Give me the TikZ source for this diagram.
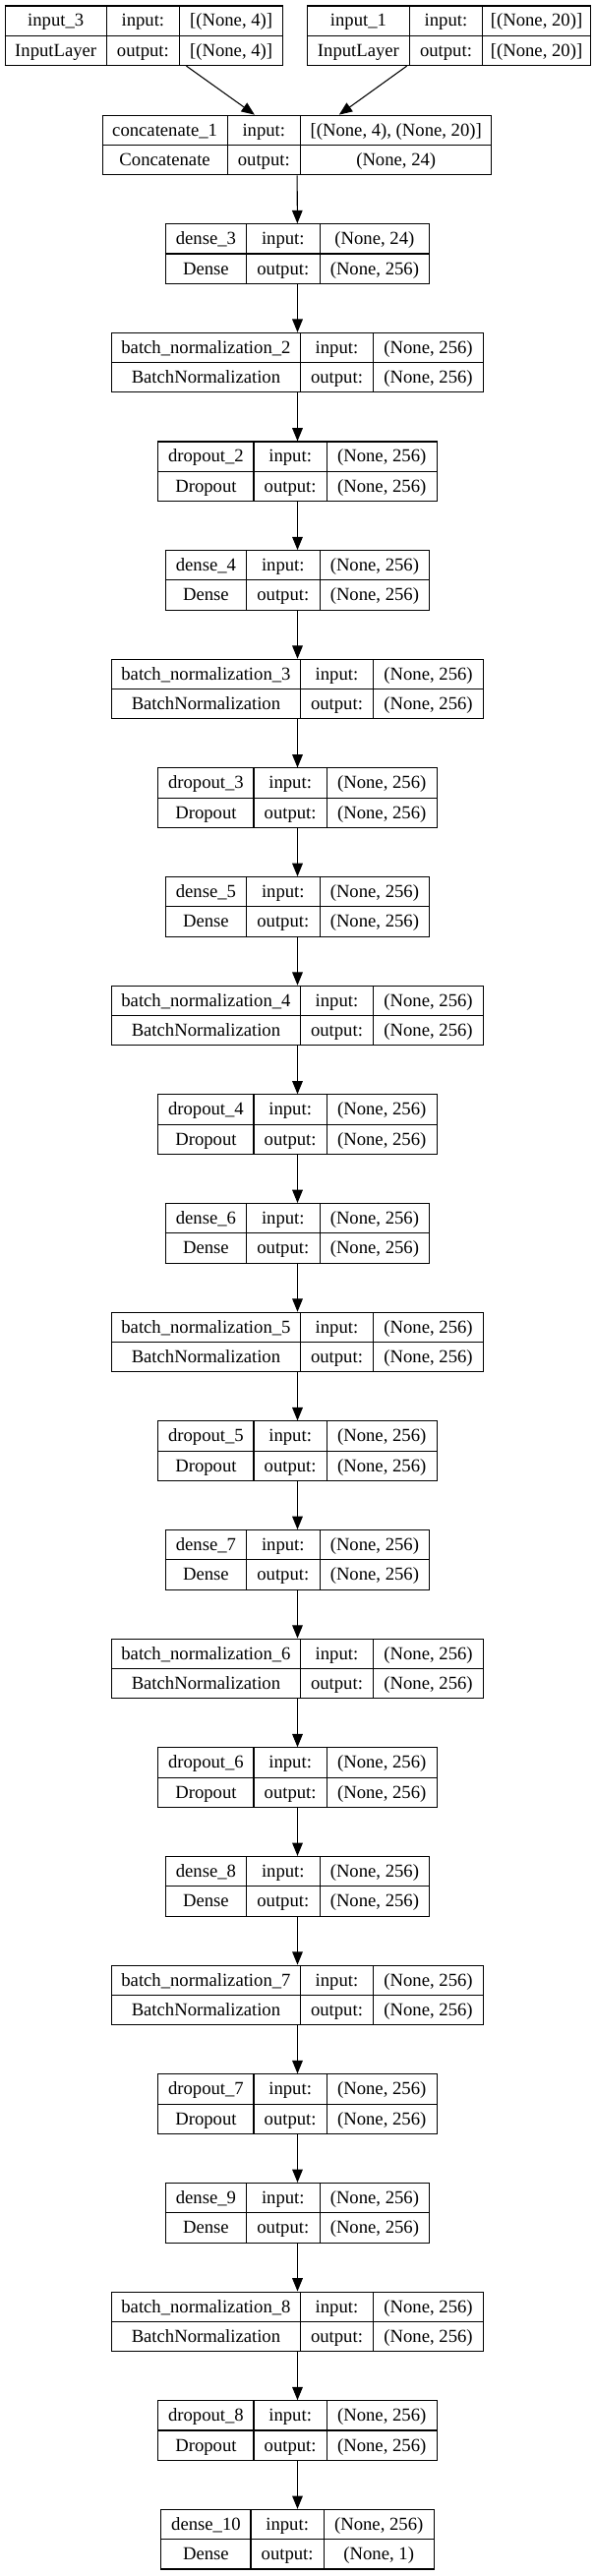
\documentclass[tikz,border=0pt]{standalone}
\usepackage{fontspec}
\setmainfont{Liberation Serif}
\usepackage{array}
\usetikzlibrary{arrows.meta}

\newcolumntype{C}[1]{>{\centering\arraybackslash}p{#1}}
\setlength{\tabcolsep}{0pt}
\setlength{\arrayrulewidth}{0.8pt}
\renewcommand{\arraystretch}{1.29}
%record table: widths, layer name, class, input shape, output shape
\newcommand{\kerastab}[7]{\begin{tabular}{|C{#1}|C{#2}|C{#3}|}\hline #4 & input: & #6\\\hline #5 & output: & #7\\\hline\end{tabular}}

\tikzset{every picture/.style={line width=0.75pt}}
\tikzset{
  layerbox/.style={inner sep=0pt, outer sep=0pt, font=\fontsize{14}{17}\selectfont},
  flowarrow/.style={-{Triangle[length=10pt,width=8pt]}, line width=0.8pt, color=black}
}

\begin{document}
\begin{tikzpicture}[x=0.75pt,y=0.75pt,yscale=-1,xscale=1]
				\useasboundingbox (0,0) rectangle (605,2619);
				
				%Layer: inputs
				\node[layerbox] (input3) at (146.4,36.3) {\kerastab{76.5pt}{55pt}{78pt}{input\_3}{InputLayer}{[(None, 4)]}{[(None, 4)]}};
				\node[layerbox] (input1) at (456.5,36.3) {\kerastab{77pt}{55pt}{81.5pt}{input\_1}{InputLayer}{[(None, 20)]}{[(None, 20)]}};
				%Layer: concatenate
				\node[layerbox] (concat1) at (302,147.5) {\kerastab{94.5pt}{55pt}{145pt}{concatenate\_1}{Concatenate}{[(None, 4), (None, 20)]}{(None, 24)}};
				
				%Layer: dense_3 block
				\node[layerbox] (dense3) at (302.5,258) {\kerastab{61pt}{55pt}{83pt}{dense\_3}{Dense}{(None, 24)}{(None, 256)}};
				\node[layerbox] (bnorm2) at (302.5,368.65) {\kerastab{143pt}{55pt}{83pt}{batch\_normalization\_2}{BatchNormalization}{(None, 256)}{(None, 256)}};
				\node[layerbox] (drop2) at (302.5,479.3) {\kerastab{72pt}{55pt}{83pt}{dropout\_2}{Dropout}{(None, 256)}{(None, 256)}};
				%Layer: dense_4 block
				\node[layerbox] (dense4) at (302.5,589.95) {\kerastab{61pt}{55pt}{83pt}{dense\_4}{Dense}{(None, 256)}{(None, 256)}};
				\node[layerbox] (bnorm3) at (302.5,700.6) {\kerastab{143pt}{55pt}{83pt}{batch\_normalization\_3}{BatchNormalization}{(None, 256)}{(None, 256)}};
				\node[layerbox] (drop3) at (302.5,811.25) {\kerastab{72pt}{55pt}{83pt}{dropout\_3}{Dropout}{(None, 256)}{(None, 256)}};
				%Layer: dense_5 block
				\node[layerbox] (dense5) at (302.5,921.9) {\kerastab{61pt}{55pt}{83pt}{dense\_5}{Dense}{(None, 256)}{(None, 256)}};
				\node[layerbox] (bnorm4) at (302.5,1032.55) {\kerastab{143pt}{55pt}{83pt}{batch\_normalization\_4}{BatchNormalization}{(None, 256)}{(None, 256)}};
				\node[layerbox] (drop4) at (302.5,1143.2) {\kerastab{72pt}{55pt}{83pt}{dropout\_4}{Dropout}{(None, 256)}{(None, 256)}};
				%Layer: dense_6 block
				\node[layerbox] (dense6) at (302.5,1253.85) {\kerastab{61pt}{55pt}{83pt}{dense\_6}{Dense}{(None, 256)}{(None, 256)}};
				\node[layerbox] (bnorm5) at (302.5,1364.5) {\kerastab{143pt}{55pt}{83pt}{batch\_normalization\_5}{BatchNormalization}{(None, 256)}{(None, 256)}};
				\node[layerbox] (drop5) at (302.5,1475.15) {\kerastab{72pt}{55pt}{83pt}{dropout\_5}{Dropout}{(None, 256)}{(None, 256)}};
				%Layer: dense_7 block
				\node[layerbox] (dense7) at (302.5,1585.8) {\kerastab{61pt}{55pt}{83pt}{dense\_7}{Dense}{(None, 256)}{(None, 256)}};
				\node[layerbox] (bnorm6) at (302.5,1696.45) {\kerastab{143pt}{55pt}{83pt}{batch\_normalization\_6}{BatchNormalization}{(None, 256)}{(None, 256)}};
				\node[layerbox] (drop6) at (302.5,1807.1) {\kerastab{72pt}{55pt}{83pt}{dropout\_6}{Dropout}{(None, 256)}{(None, 256)}};
				%Layer: dense_8 block
				\node[layerbox] (dense8) at (302.5,1917.75) {\kerastab{61pt}{55pt}{83pt}{dense\_8}{Dense}{(None, 256)}{(None, 256)}};
				\node[layerbox] (bnorm7) at (302.5,2028.4) {\kerastab{143pt}{55pt}{83pt}{batch\_normalization\_7}{BatchNormalization}{(None, 256)}{(None, 256)}};
				\node[layerbox] (drop7) at (302.5,2139.05) {\kerastab{72pt}{55pt}{83pt}{dropout\_7}{Dropout}{(None, 256)}{(None, 256)}};
				%Layer: dense_9 block
				\node[layerbox] (dense9) at (302.5,2249.7) {\kerastab{61pt}{55pt}{83pt}{dense\_9}{Dense}{(None, 256)}{(None, 256)}};
				\node[layerbox] (bnorm8) at (302.5,2360.35) {\kerastab{143pt}{55pt}{83pt}{batch\_normalization\_8}{BatchNormalization}{(None, 256)}{(None, 256)}};
				\node[layerbox] (drop8) at (302.5,2471) {\kerastab{72pt}{55pt}{83pt}{dropout\_8}{Dropout}{(None, 256)}{(None, 256)}};
				%Layer: output
				\node[layerbox] (dense10) at (302.5,2581.65) {\kerastab{67.5pt}{55pt}{83pt}{dense\_10}{Dense}{(None, 256)}{(None, 1)}};
				
				%Straight Lines: merge
				\draw[flowarrow] (input3) -- (concat1);
				\draw[flowarrow] (input1) -- (concat1);
				%Straight Lines: chain
				\draw[flowarrow] (concat1) -- (dense3);
				\draw[flowarrow] (dense3) -- (bnorm2);
				\draw[flowarrow] (bnorm2) -- (drop2);
				\draw[flowarrow] (drop2) -- (dense4);
				\draw[flowarrow] (dense4) -- (bnorm3);
				\draw[flowarrow] (bnorm3) -- (drop3);
				\draw[flowarrow] (drop3) -- (dense5);
				\draw[flowarrow] (dense5) -- (bnorm4);
				\draw[flowarrow] (bnorm4) -- (drop4);
				\draw[flowarrow] (drop4) -- (dense6);
				\draw[flowarrow] (dense6) -- (bnorm5);
				\draw[flowarrow] (bnorm5) -- (drop5);
				\draw[flowarrow] (drop5) -- (dense7);
				\draw[flowarrow] (dense7) -- (bnorm6);
				\draw[flowarrow] (bnorm6) -- (drop6);
				\draw[flowarrow] (drop6) -- (dense8);
				\draw[flowarrow] (dense8) -- (bnorm7);
				\draw[flowarrow] (bnorm7) -- (drop7);
				\draw[flowarrow] (drop7) -- (dense9);
				\draw[flowarrow] (dense9) -- (bnorm8);
				\draw[flowarrow] (bnorm8) -- (drop8);
				\draw[flowarrow] (drop8) -- (dense10);
				
			\end{tikzpicture}
\end{document}
